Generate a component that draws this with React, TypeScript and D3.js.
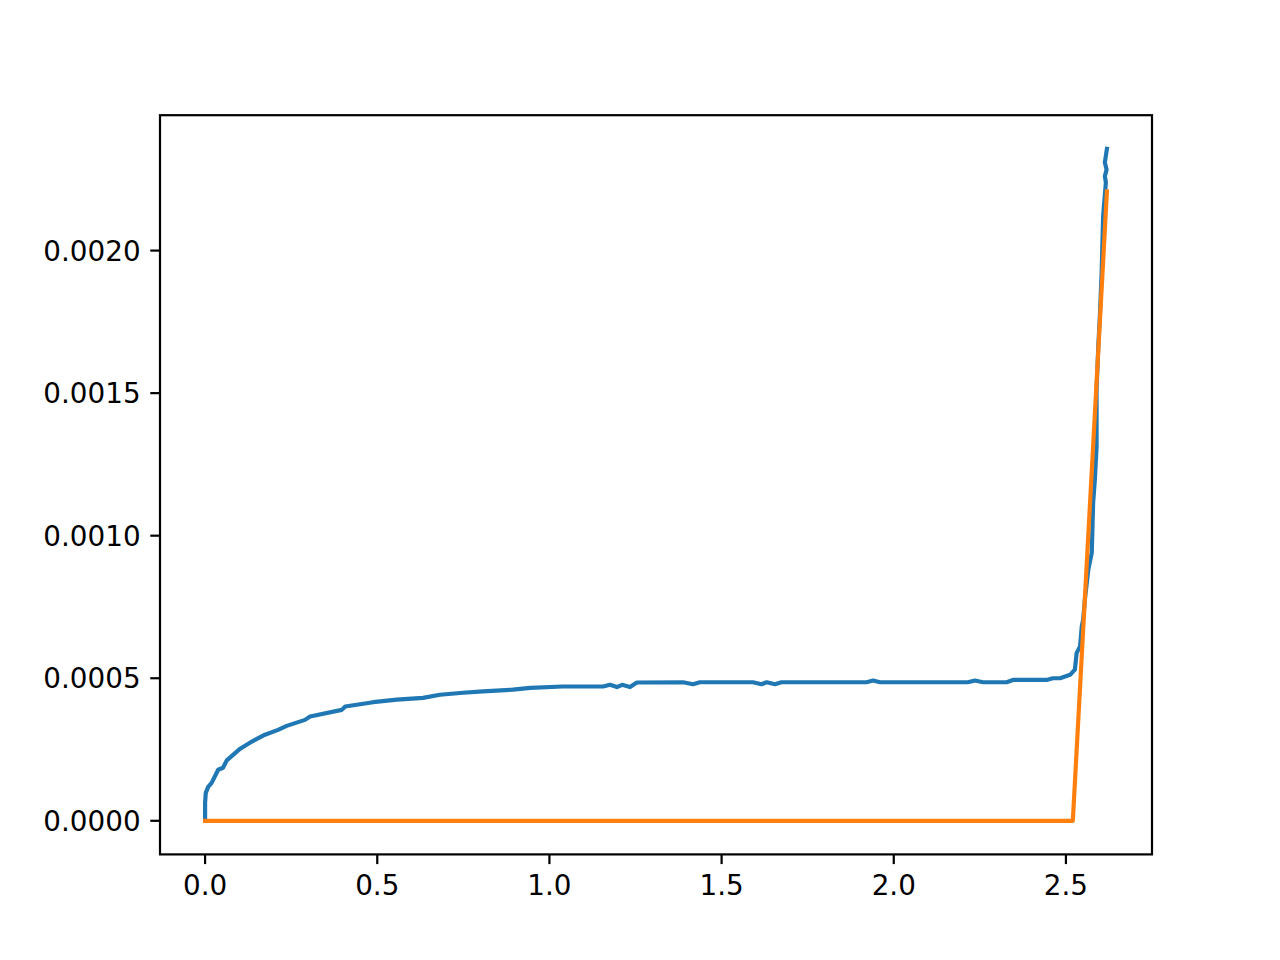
import React from 'react'
import * as d3 from 'd3'

// blue curve
const blueX = [0, 0, 0.002, 0.009, 0.019, 0.038, 0.052, 0.063, 0.102, 0.136, 0.174, 0.212, 0.237, 0.290, 0.305,
    0.397, 0.407, 0.488, 0.557, 0.633, 0.682, 0.749, 0.807, 0.894, 0.944, 1.039, 1.156, 1.176, 1.196, 1.211,
    1.234, 1.254, 1.388, 1.417, 1.437, 1.591, 1.616, 1.631, 1.655, 1.674, 1.921, 1.940, 1.960, 2.215, 2.236,
    2.259, 2.328, 2.346, 2.444, 2.462, 2.483, 2.512, 2.526, 2.531, 2.541, 2.546, 2.550, 2.555, 2.565, 2.575,
    2.579, 2.584, 2.589, 2.589, 2.594, 2.599, 2.604, 2.608, 2.616, 2.613, 2.618, 2.613, 2.619]
const blueY = [0, 0.63, 0.98, 1.19, 1.33, 1.79, 1.86, 2.12, 2.53, 2.78, 3.02, 3.19, 3.33, 3.54, 3.66,
    3.89, 4.01, 4.16, 4.25, 4.31, 4.42, 4.49, 4.54, 4.60, 4.66, 4.71, 4.71, 4.77, 4.69, 4.77,
    4.69, 4.85, 4.86, 4.79, 4.86, 4.86, 4.79, 4.86, 4.79, 4.86, 4.86, 4.92, 4.86, 4.86, 4.92,
    4.86, 4.86, 4.94, 4.94, 5.00, 5.00, 5.12, 5.30, 5.88, 6.12, 6.82, 7.05, 7.75, 8.81, 9.40,
    11.16, 11.96, 13.13, 15.12, 16.64, 17.82, 19.33, 21.20, 22.39, 22.61, 22.84, 23.09, 23.57].map(v => v * 1e-4)

// orange piecewise line
const orangeX = [0, 2.52, 2.619]
const orangeY = [0, 0, 0.002207]

const xTicks = [0, 0.5, 1.0, 1.5, 2.0, 2.5]
const yTicks = [0, 0.0005, 0.001, 0.0015, 0.002]

const W = 1280, H = 960
const box = { left: 160, right: 1152, top: 115.2, bottom: 854.4 }
const FONT = 27.8
const TICK = 9.7

function padded (lo, hi) {
    const m = (hi - lo) * 0.05
    return [lo - m, hi + m]
}

const Series = ({xs, ys, x, y, color}) => {
    const line = d3.line()
        .x(i => x(xs[i]))
        .y(i => y(ys[i]))
    return <path d={line(d3.range(xs.length))} fill="none" stroke={color}
        strokeWidth={4.17} strokeLinejoin="round" strokeLinecap="square" />
}

const XAxis = ({x}) => (
    <g>
        {xTicks.map(t => (
            <g key={t} transform={`translate(${x(t)},${box.bottom})`}>
                <line y2={TICK} stroke="#000" strokeWidth={2.2} />
                <text y={TICK * 2 + 21} textAnchor="middle" fontSize={FONT}>{t.toFixed(1)}</text>
            </g>
        ))}
    </g>
)

const YAxis = ({y}) => (
    <g>
        {yTicks.map(t => (
            <g key={t} transform={`translate(${box.left},${y(t)})`}>
                <line x2={-TICK} stroke="#000" strokeWidth={2.2} />
                <text x={-TICK * 2} dy={10} textAnchor="end" fontSize={FONT}>{t.toFixed(4)}</text>
            </g>
        ))}
    </g>
)

export default function App () {
    const allX = blueX.concat(orangeX), allY = blueY.concat(orangeY)
    const x = d3.scaleLinear()
        .domain(padded(d3.min(allX), d3.max(allX)))
        .range([box.left, box.right])
    const y = d3.scaleLinear()
        .domain(padded(d3.min(allY), d3.max(allY)))
        .range([box.bottom, box.top])

    return (
        <svg width={W} height={H} style={{ position: 'absolute', left: 0, top: 0, background: '#fff' }}
            fontFamily="DejaVu Sans">
            <rect width={W} height={H} fill="#fff" />
            <Series xs={blueX} ys={blueY} x={x} y={y} color="#1f77b4" />
            <Series xs={orangeX} ys={orangeY} x={x} y={y} color="#ff7f0e" />
            <rect x={box.left} y={box.top} width={box.right - box.left} height={box.bottom - box.top}
                fill="none" stroke="#000" strokeWidth={2.2} strokeLinejoin="miter" />
            <XAxis x={x} />
            <YAxis y={y} />
        </svg>
    )
}
